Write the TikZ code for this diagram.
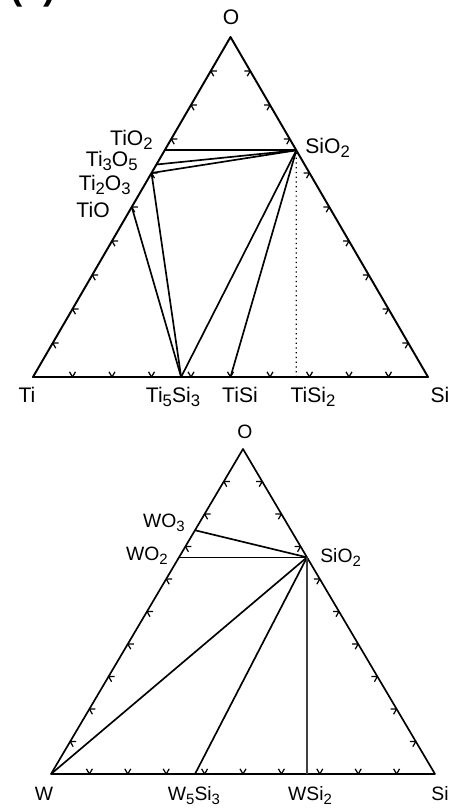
\documentclass[tikz,border=0pt]{standalone}
\usepackage{fontspec}
\setmainfont{Liberation Sans}
\usetikzlibrary{calc}
\newcommand\chemsubA[1]{\raisebox{-0.4ex}{\fontsize{9.5}{9.5}\selectfont #1}}
\newcommand\chemsubB[1]{\raisebox{-0.4ex}{\fontsize{8.5}{8.5}\selectfont #1}}
\begin{document}
\begin{tikzpicture}[x=0.02cm,y=-0.02cm,
  edge/.style={line width=1.1pt,line join=round,line cap=round},
  tie/.style={line width=0.95pt},
  thintie/.style={line width=0.45pt},
  dottie/.style={line width=0.7pt,dotted},
  tickmark/.style={line width=0.7pt},
  lblA/.style={font=\fontsize{12}{14}\selectfont,inner sep=0pt},
  lblB/.style={font=\fontsize{11}{13}\selectfont,inner sep=0pt},
]
\useasboundingbox (0,0) rectangle (455,808);

% panel label, cut at the top edge as in the reference
\node[font=\bfseries\fontsize{21}{21}\selectfont,anchor=base west,inner sep=0pt] (panel) at (10,-0.5) {(a)};

% ---------------- top diagram: Ti-Si-O ----------------
\coordinate (TO)  at (230.5,37);
\coordinate (TTi) at (33,377);
\coordinate (TSi) at (428,377);
\coordinate (TSiO2)  at ($(TSi)!0.6667!(TO)$);
\coordinate (TTiO2)  at ($(TTi)!0.6667!(TO)$);
\coordinate (TTi3O5) at ($(TTi)!0.625!(TO)$);
\coordinate (TTi2O3) at ($(TTi)!0.6!(TO)$);
\coordinate (TTiO)   at ($(TTi)!0.5!(TO)$);
\coordinate (TTi5Si3) at ($(TTi)!0.375!(TSi)$);
\coordinate (TTiSi)  at ($(TTi)!0.5!(TSi)$);
\coordinate (TTiSi2) at ($(TTi)!0.6667!(TSi)$);

\draw[edge] (TTi) -- (TO) -- (TSi) -- cycle;
\foreach \k [evaluate=\k as \t using \k/10] in {1,...,9}{
  \draw[tickmark] ($(TTi)!\t!(TO)$) -- ++(6,0) ($(TTi)!\t!(TO)$) -- ++(3,5.2);
  \draw[tickmark] ($(TSi)!\t!(TO)$) -- ++(-6,0) ($(TSi)!\t!(TO)$) -- ++(-3,5.2);
  \draw[tickmark] ($(TTi)!\t!(TSi)$) -- ++(-3,-5.2) ($(TTi)!\t!(TSi)$) -- ++(3,-5.2);
}
\draw[tie] (TTiO2) -- (TSiO2);
\draw[tie] (TTi3O5) -- (TSiO2);
\draw[tie] (TTi2O3) -- (TSiO2);
\draw[tie] (TTi2O3) -- (TTi5Si3);
\draw[tie] (TTiO) -- (TTi5Si3);
\draw[tie] (TTi5Si3) -- (TSiO2);
\draw[tie] (TTiSi) -- (TSiO2);
\draw[dottie] (TTiSi2) -- (TSiO2);

\node[lblA,anchor=base] (lTO) at (231,25) {O};
\node[lblA,anchor=base east] (lTiO2) at (153,145) {TiO\chemsubA{2}};
\node[lblA,anchor=base west] (lTSiO2) at (305,153) {SiO\chemsubA{2}};
\node[lblA,anchor=base east] (lTi3O5) at (138,166) {Ti\chemsubA{3}O\chemsubA{5}};
\node[lblA,anchor=base east] (lTi2O3) at (131,190) {Ti\chemsubA{2}O\chemsubA{3}};
\node[lblA,anchor=base east] (lTiO) at (110,217) {TiO};
\node[lblA,anchor=base] (lTTi) at (27,402) {Ti};
\node[lblA,anchor=base] (lTi5Si3) at (173,402) {Ti\chemsubA{5}Si\chemsubA{3}};
\node[lblA,anchor=base] (lTiSi) at (240,402) {TiSi};
\node[lblA,anchor=base] (lTiSi2) at (313,402) {TiSi\chemsubA{2}};
\node[lblA,anchor=base] (lTSi) at (440,402) {Si};

% ---------------- bottom diagram: W-Si-O ----------------
\coordinate (BO)  at (243,449);
\coordinate (BW)  at (51,774);
\coordinate (BSi) at (435,774);
\coordinate (BSiO2) at ($(BSi)!0.6667!(BO)$);
\coordinate (BWO3)  at ($(BW)!0.75!(BO)$);
\coordinate (BWO2)  at ($(BW)!0.6667!(BO)$);
\coordinate (BW5Si3) at ($(BW)!0.375!(BSi)$);
\coordinate (BWSi2) at ($(BW)!0.6667!(BSi)$);

\draw[edge,line width=0.95pt] (BW) -- (BO) -- (BSi) -- cycle;
\foreach \k [evaluate=\k as \t using \k/10] in {1,...,9}{
  \draw[tickmark] ($(BW)!\t!(BO)$) -- ++(6,0) ($(BW)!\t!(BO)$) -- ++(3,5.2);
  \draw[tickmark] ($(BSi)!\t!(BO)$) -- ++(-6,0) ($(BSi)!\t!(BO)$) -- ++(-3,5.2);
  \draw[tickmark] ($(BW)!\t!(BSi)$) -- ++(-3,-5.2) ($(BW)!\t!(BSi)$) -- ++(3,-5.2);
}
\draw[tie] (BWO3) -- (BSiO2);
\draw[thintie] (BWO2) -- (BSiO2);
\draw[tie] (BW) -- (BSiO2);
\draw[tie] (BW5Si3) -- (BSiO2);
\draw[tie,black!75] (BWSi2) -- (BSiO2);

\node[lblB,anchor=base] (lBO) at (245,438) {O};
\node[lblB,anchor=base east] (lWO3) at (185,527) {WO\chemsubB{3}};
\node[lblB,anchor=base east] (lWO2) at (168,560) {WO\chemsubB{2}};
\node[lblB,anchor=base west] (lBSiO2) at (320,562) {SiO\chemsubB{2}};
\node[lblB,anchor=base] (lBW) at (44,800) {W};
\node[lblB,anchor=base] (lW5Si3) at (194,800) {W\chemsubB{5}Si\chemsubB{3}};
\node[lblB,anchor=base] (lWSi2) at (310,800) {WSi\chemsubB{2}};
\node[lblB,anchor=base] (lBSi) at (440,800) {Si};
\end{tikzpicture}
\end{document}
